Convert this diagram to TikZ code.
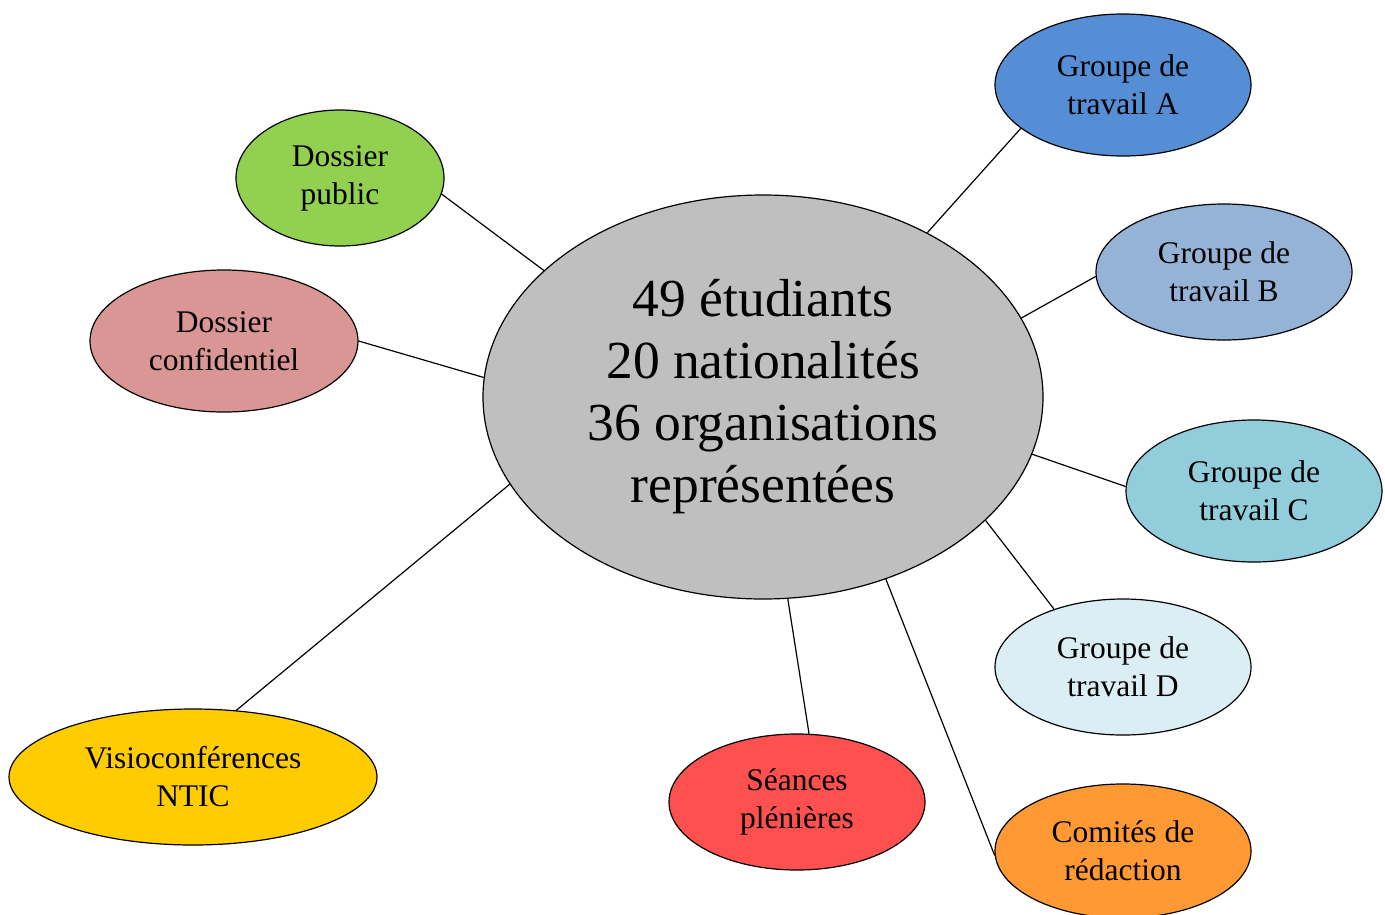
\documentclass[tikz,border=0pt]{standalone}
\usepackage{fontspec}
\setmainfont{Liberation Serif}
\usetikzlibrary{shapes.geometric}
\definecolor{myGrey}{RGB}{191, 191, 191}
\definecolor{myBlueA}{RGB}{85, 142, 213}
\definecolor{myBlueB}{RGB}{149, 179, 215}
\definecolor{myTeal}{RGB}{146, 205, 220}
\definecolor{myPale}{RGB}{219, 238, 243}
\definecolor{myOrange}{RGB}{255, 153, 51}
\definecolor{myRed}{RGB}{255, 80, 80}
\definecolor{myYellow}{RGB}{255, 204, 0}
\definecolor{myPink}{RGB}{217, 150, 148}
\definecolor{myGreen}{RGB}{146, 208, 80}
\tikzset{
  bubble/.style={draw, ellipse, line width=1.2pt, inner sep=0pt, align=center,
    font=\fontsize{31.5}{38}\selectfont, minimum width=256pt, minimum height=138pt}
}

\begin{document}
\begin{tikzpicture}[x=1pt, y=-1pt, line width=1.2pt]
				\useasboundingbox (0,0) rectangle (1385,914);
				\draw (763,397) node[bubble, fill=myGrey, minimum width=560pt, minimum height=404pt,
				  font=\fontsize{53.5}{62}\selectfont] (C) {49 étudiants\\20 nationalités\\36 organisations\\représentées};
				\draw (1123,85) node[bubble, fill=myBlueA, minimum height=142pt] (GA) {Groupe de\\travail A};
				\draw (1224,272) node[bubble, fill=myBlueB, minimum height=136pt] (GB) {Groupe de\\travail B};
				\draw (1254,491) node[bubble, fill=myTeal, minimum height=142pt] (GC) {Groupe de\\travail C};
				\draw (1123,667) node[bubble, fill=myPale, minimum height=136pt] (GD) {Groupe de\\travail D};
				\draw (1123,851) node[bubble, fill=myOrange, minimum height=134pt] (CR) {Comités de\\rédaction};
				\draw (797,802) node[bubble, fill=myRed, minimum height=136pt] (SP) {Séances\\plénières};
				\draw (193,777) node[bubble, fill=myYellow, minimum width=368pt, minimum height=136pt] (VN) {Visioconférences\\NTIC};
				\draw (224,341) node[bubble, fill=myPink, minimum width=268pt, minimum height=142pt] (DC) {Dossier\\confidentiel};
				\draw (340,178) node[bubble, fill=myGreen, minimum width=208pt, minimum height=136pt] (DP) {Dossier\\public};

				\path
				(C.45.5) edge (GA.203)
				(C.17.5) edge (GB.182)
				(C.-12.2) edge (GC.178)
				(C.-29.8) edge (GD.140)
				(C.-56.5) edge (CR.182)
				(C.-83.5) edge (SP.80.7)
				(C.199) edge (VN.57)
				(C.176) edge (DC.0)
				(C.150) edge (DP.-9)
				;
			\end{tikzpicture}
\end{document}
